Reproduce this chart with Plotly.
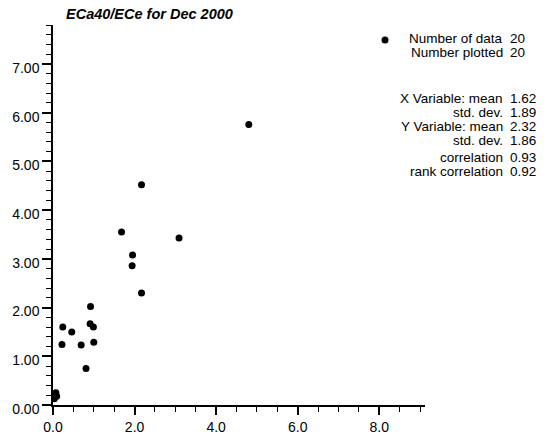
import plotly.graph_objects as go

# ECa40 vs ECe, December 2000 survey
eca40 = [8.14, 4.80, 2.17, 1.68, 3.09, 1.95, 1.94, 2.17, 0.92, 0.91,
         0.99, 0.24, 0.46, 1.00, 0.22, 0.69, 0.81, 0.07, 0.09, 0.03]
ece = [7.49, 5.76, 4.52, 3.55, 3.43, 3.08, 2.86, 2.30, 2.02, 1.67,
       1.60, 1.60, 1.50, 1.29, 1.24, 1.23, 0.75, 0.25, 0.18, 0.13]

stat_labels = ["Number of data", "Number plotted", "X Variable: mean", "std. dev.",
               "Y Variable: mean", "std. dev.", "correlation", "rank correlation"]
stat_values = ["20", "20", "1.62", "1.89", "2.32", "1.86", "0.93", "0.92"]
stat_rows_px = [39, 53.5, 100, 114.5, 129.5, 144, 161, 175.5]

W, H = 549, 447
L, R, T, B = 53, 124, 25, 32
pw, ph = W - L - R, H - T - B

fig = go.Figure()
fig.add_trace(go.Scatter(
    x=eca40, y=ece, mode="markers",
    marker=dict(color="black", size=7),
    hoverinfo="x+y", showlegend=False,
))

font = "Liberation Sans, Arial, Helvetica, sans-serif"

annotations = []
for lab, val, py in zip(stat_labels, stat_values, stat_rows_px):
    yp = (H - B - py) / ph
    annotations.append(dict(xref="paper", yref="paper", x=(505 - L) / pw, y=yp,
                            text=lab, showarrow=False, xanchor="right", yanchor="middle",
                            font=dict(size=13.5, color="black", family=font)))
    annotations.append(dict(xref="paper", yref="paper", x=(508 - L) / pw, y=yp,
                            text=val, showarrow=False, xanchor="left", yanchor="middle",
                            font=dict(size=13.5, color="black", family=font)))

annotations.append(dict(xref="paper", yref="paper", x=(149 - L) / pw, y=(H - B - 14) / ph,
                        text="<b><i>ECa40/ECe for Dec 2000</i></b>", showarrow=False,
                        xanchor="center", yanchor="middle",
                        font=dict(size=14.5, color="black", family=font)))

fig.update_layout(
    width=W, height=H,
    margin=dict(l=L, r=R, t=T, b=B),
    paper_bgcolor="white", plot_bgcolor="white",
    font=dict(family=font, size=14, color="black"),
    annotations=annotations,
    xaxis=dict(range=[0, 9.12], dtick=2, tick0=0, tickformat=".1f",
               showgrid=False, zeroline=False, showline=True, linecolor="black",
               linewidth=1.5, ticks="outside", ticklen=8, tickwidth=1.5,
               tickcolor="black",
               minor=dict(dtick=0.5, ticks="outside", ticklen=5, tickwidth=1,
                          tickcolor="black", showgrid=False),
               fixedrange=True),
    yaxis=dict(range=[0, 7.8], dtick=1, tick0=0, tickformat=".2f",
               showgrid=False, zeroline=False, showline=True, linecolor="black",
               linewidth=1.5, ticks="outside", ticklen=9, tickwidth=1.5,
               tickcolor="black", ticklabelshift=4,
               minor=dict(dtick=0.2, ticks="outside", ticklen=5, tickwidth=1,
                          tickcolor="black", showgrid=False),
               fixedrange=True),
)

fig.write_html("out.html")
